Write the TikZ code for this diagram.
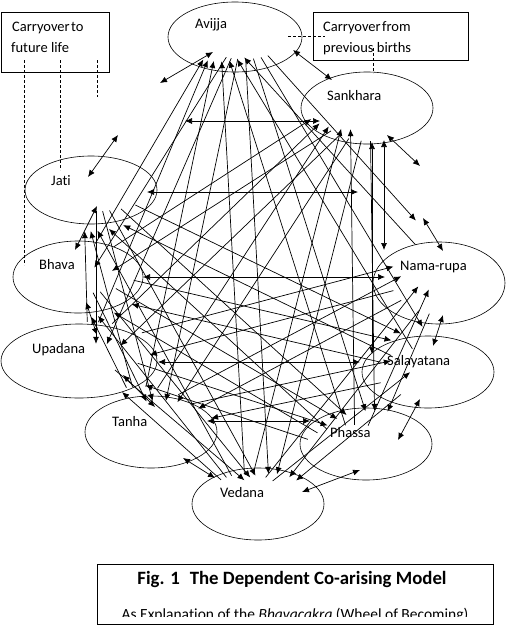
\documentclass[tikz,border=0pt]{standalone}
\usepackage{fontspec}
\setmainfont[Ligatures=NoCommon]{Carlito}
\usetikzlibrary{shapes.geometric,arrows.meta,calc}
\begin{document}
\begin{tikzpicture}[x=1pt,y=-1pt,
  oval/.style={ellipse,draw,line width=0.6pt,inner sep=0pt},
  port/.style={ellipse,inner sep=0pt},
  lbl/.style={anchor=base west,inner sep=0pt,font=\fontsize{14.5}{17}\selectfont},
  tip/.tip={Latex[length=7pt,width=6pt]},
  link/.style={line width=0.7pt,tip-tip},
  arr/.style={line width=0.7pt,-tip},
  carry/.style={line width=0.6pt,dash pattern=on 3pt off 2pt},
  frame/.style={draw,line width=0.8pt,inner sep=0pt,anchor=north west}]
\useasboundingbox (0,0) rectangle (514,630);
% ellipses
\node[oval,minimum width=134pt,minimum height=70pt] (Av) at (235,37) {};
\node[oval,minimum width=132pt,minimum height=72pt] (Sa) at (367,108) {};
\node[oval,minimum width=132pt,minimum height=82pt] (Nr) at (439,283) {};
\node[oval,minimum width=132pt,minimum height=72pt] (Sl) at (428,372) {};
\node[oval,minimum width=132pt,minimum height=72pt] (Ph) at (366,444) {};
\node[oval,minimum width=132pt,minimum height=72pt] (Ve) at (258,504) {};
\node[oval,minimum width=132pt,minimum height=72pt] (Ta) at (151,432) {};
\node[oval,minimum width=156pt,minimum height=74pt] (Up) at (79,361) {};
\node[oval,minimum width=130pt,minimum height=72pt] (Bh) at (78,277) {};
\node[oval,minimum width=132pt,minimum height=68pt] (Ja) at (91,190) {};
% labels
\node[lbl] (tAv) at (195,28) {Avijja};
\node[lbl] (tSa) at (327,100) {Sankhara};
\node[lbl] (tNr) at (400,270) {Nama-rupa};
\node[lbl] (tSl) at (387,365) {Salayatana};
\node[lbl] (tPh) at (330,437) {Phassa};
\node[lbl] (tVe) at (220,497) {Vedana};
\node[lbl] (tTa) at (112,426) {Tanha};
\node[lbl] (tUp) at (32,353) {Upadana};
\node[lbl] (tBh) at (39,269) {Bhava};
\node[lbl] (tJa) at (51,185) {Jati};
% target ports (arrow heads)
\node[port,minimum width=100pt,minimum height=60pt] (tA) at (220,31) {};
\node[port,minimum width=110pt,minimum height=70pt] (tS) at (350,94) {};
\node[port,minimum width=110pt,minimum height=76pt] (tN) at (445,253) {};
\node[port,minimum width=100pt,minimum height=50pt] (tL) at (437,351) {};
\node[port,minimum width=110pt,minimum height=60pt] (tP) at (375,441) {};
\node[port,minimum width=80pt,minimum height=56pt] (tV) at (270,502) {};
\node[port,minimum width=110pt,minimum height=56pt] (tT) at (160,429) {};
\node[port,minimum width=130pt,minimum height=50pt] (tU) at (96,369) {};
\node[port,minimum width=120pt,minimum height=50pt] (tB) at (79,292) {};
\node[port,minimum width=120pt,minimum height=50pt] (tJ) at (84,206) {};
% source ports (line tails)
\node[port,minimum width=100pt,minimum height=60pt] (sA) at (244,29) {};
\node[port,minimum width=110pt,minimum height=70pt] (sS) at (370,106) {};
\node[port,minimum width=110pt,minimum height=76pt] (sN) at (445,277) {};
\node[port,minimum width=100pt,minimum height=50pt] (sL) at (427,373) {};
\node[port,minimum width=110pt,minimum height=60pt] (sP) at (355,455) {};
\node[port,minimum width=80pt,minimum height=56pt] (sV) at (246,502) {};
\node[port,minimum width=110pt,minimum height=56pt] (sT) at (140,415) {};
\node[port,minimum width=130pt,minimum height=50pt] (sU) at (88,347) {};
\node[port,minimum width=120pt,minimum height=50pt] (sB) at (81,268) {};
\node[port,minimum width=120pt,minimum height=50pt] (sJ) at (96,186) {};
% long links, one arrow each way
\foreach \a/\b in {A/N,A/L,A/P,A/V,A/T,A/U,A/B,
                   S/P,S/V,S/T,S/U,S/B,
                   N/P,N/V,N/T,N/U,
                   L/V,L/T,L/B,L/J,
                   P/U,P/B,P/J,
                   V/U,V/B,V/J,
                   T/B,T/J,
                   U/J}
  {\draw[arr] (s\a) -- (t\b);
   \draw[arr] (s\b) -- (t\a);}
% straight horizontal / vertical links
\coordinate (h1a) at (185,121); \coordinate (h1b) at (320,121);
\coordinate (h2a) at (147,192); \coordinate (h2b) at (358,192);
\coordinate (h3a) at (143,277); \coordinate (h3b) at (385,277);
\coordinate (h4a) at (158,362); \coordinate (h4b) at (360,362);
\coordinate (h5a) at (207,421); \coordinate (h5b) at (310,421);
\coordinate (h6a) at (372,142); \coordinate (h6b) at (372,354);
\coordinate (h7a) at (384,140); \coordinate (h7b) at (384,250);
\foreach \i in {1,...,7} \draw[link] (h\i a) -- (h\i b);
% short links between neighbours
\coordinate (c1a) at (293,50);  \coordinate (c1b) at (332,80);
\coordinate (c2a) at (213,52);  \coordinate (c2b) at (160,83);
\coordinate (c3a) at (118,135); \coordinate (c3b) at (88,177);
\coordinate (c4a) at (97,206);  \coordinate (c4b) at (75,250);
\coordinate (c5a) at (86,302);  \coordinate (c5b) at (97,335);
\coordinate (c6a) at (123,375); \coordinate (c6b) at (155,407);
\coordinate (c7a) at (183,458); \coordinate (c7b) at (215,478);
\coordinate (c8a) at (302,492); \coordinate (c8b) at (360,470);
\coordinate (c9a) at (398,440); \coordinate (c9b) at (420,399);
\coordinate (c10a) at (443,315); \coordinate (c10b) at (433,346);
\coordinate (c11a) at (423,218); \coordinate (c11b) at (443,251);
\coordinate (c12a) at (387,135); \coordinate (c12b) at (420,166);
\foreach \i in {1,...,12} \draw[link] (c\i a) -- (c\i b);
% carry-over boxes
\node[frame,minimum width=108pt,minimum height=60pt] (bL) at (1,12) {};
\node[lbl] (bL1) at (12,31) {Carryover\hspace{1.5pt}to};
\node[lbl] (bL2) at (11,52) {future life};
\node[frame,minimum width=155pt,minimum height=48pt] (bR) at (313,12) {};
\node[lbl] (bR1) at (323,31) {Carryover\hspace{1.5pt}from};
\node[lbl] (bR2) at (323,52) {previous births};
\coordinate (d1a) at (24,60);  \coordinate (d1b) at (24,265);
\coordinate (d2a) at (60,60);  \coordinate (d2b) at (60,170);
\coordinate (d3a) at (97,60);  \coordinate (d3b) at (97,97);
\coordinate (d4a) at (288,36); \coordinate (d4b) at (325,36);
\coordinate (d5a) at (373,48); \coordinate (d5b) at (373,73);
\foreach \i in {1,...,5} \draw[carry] (d\i a) -- (d\i b);
% caption
\node[frame,minimum width=396pt,minimum height=60pt] (cap) at (97,564) {};
\node[anchor=base,inner sep=0pt,font=\bfseries\fontsize{18.8}{22}\selectfont] (cap1) at (292,584) {Fig. 1\hspace{10pt}The Dependent Co-arising Model};
\begin{scope}
\clip (97,564) rectangle (493,616.5);
\node[anchor=base,inner sep=0pt,font=\fontsize{15.5}{18}\selectfont] (cap2) at (295,619) {As Explanation of the \textit{Bhavacakra} (Wheel of Becoming)};
\end{scope}
\end{tikzpicture}
\end{document}
